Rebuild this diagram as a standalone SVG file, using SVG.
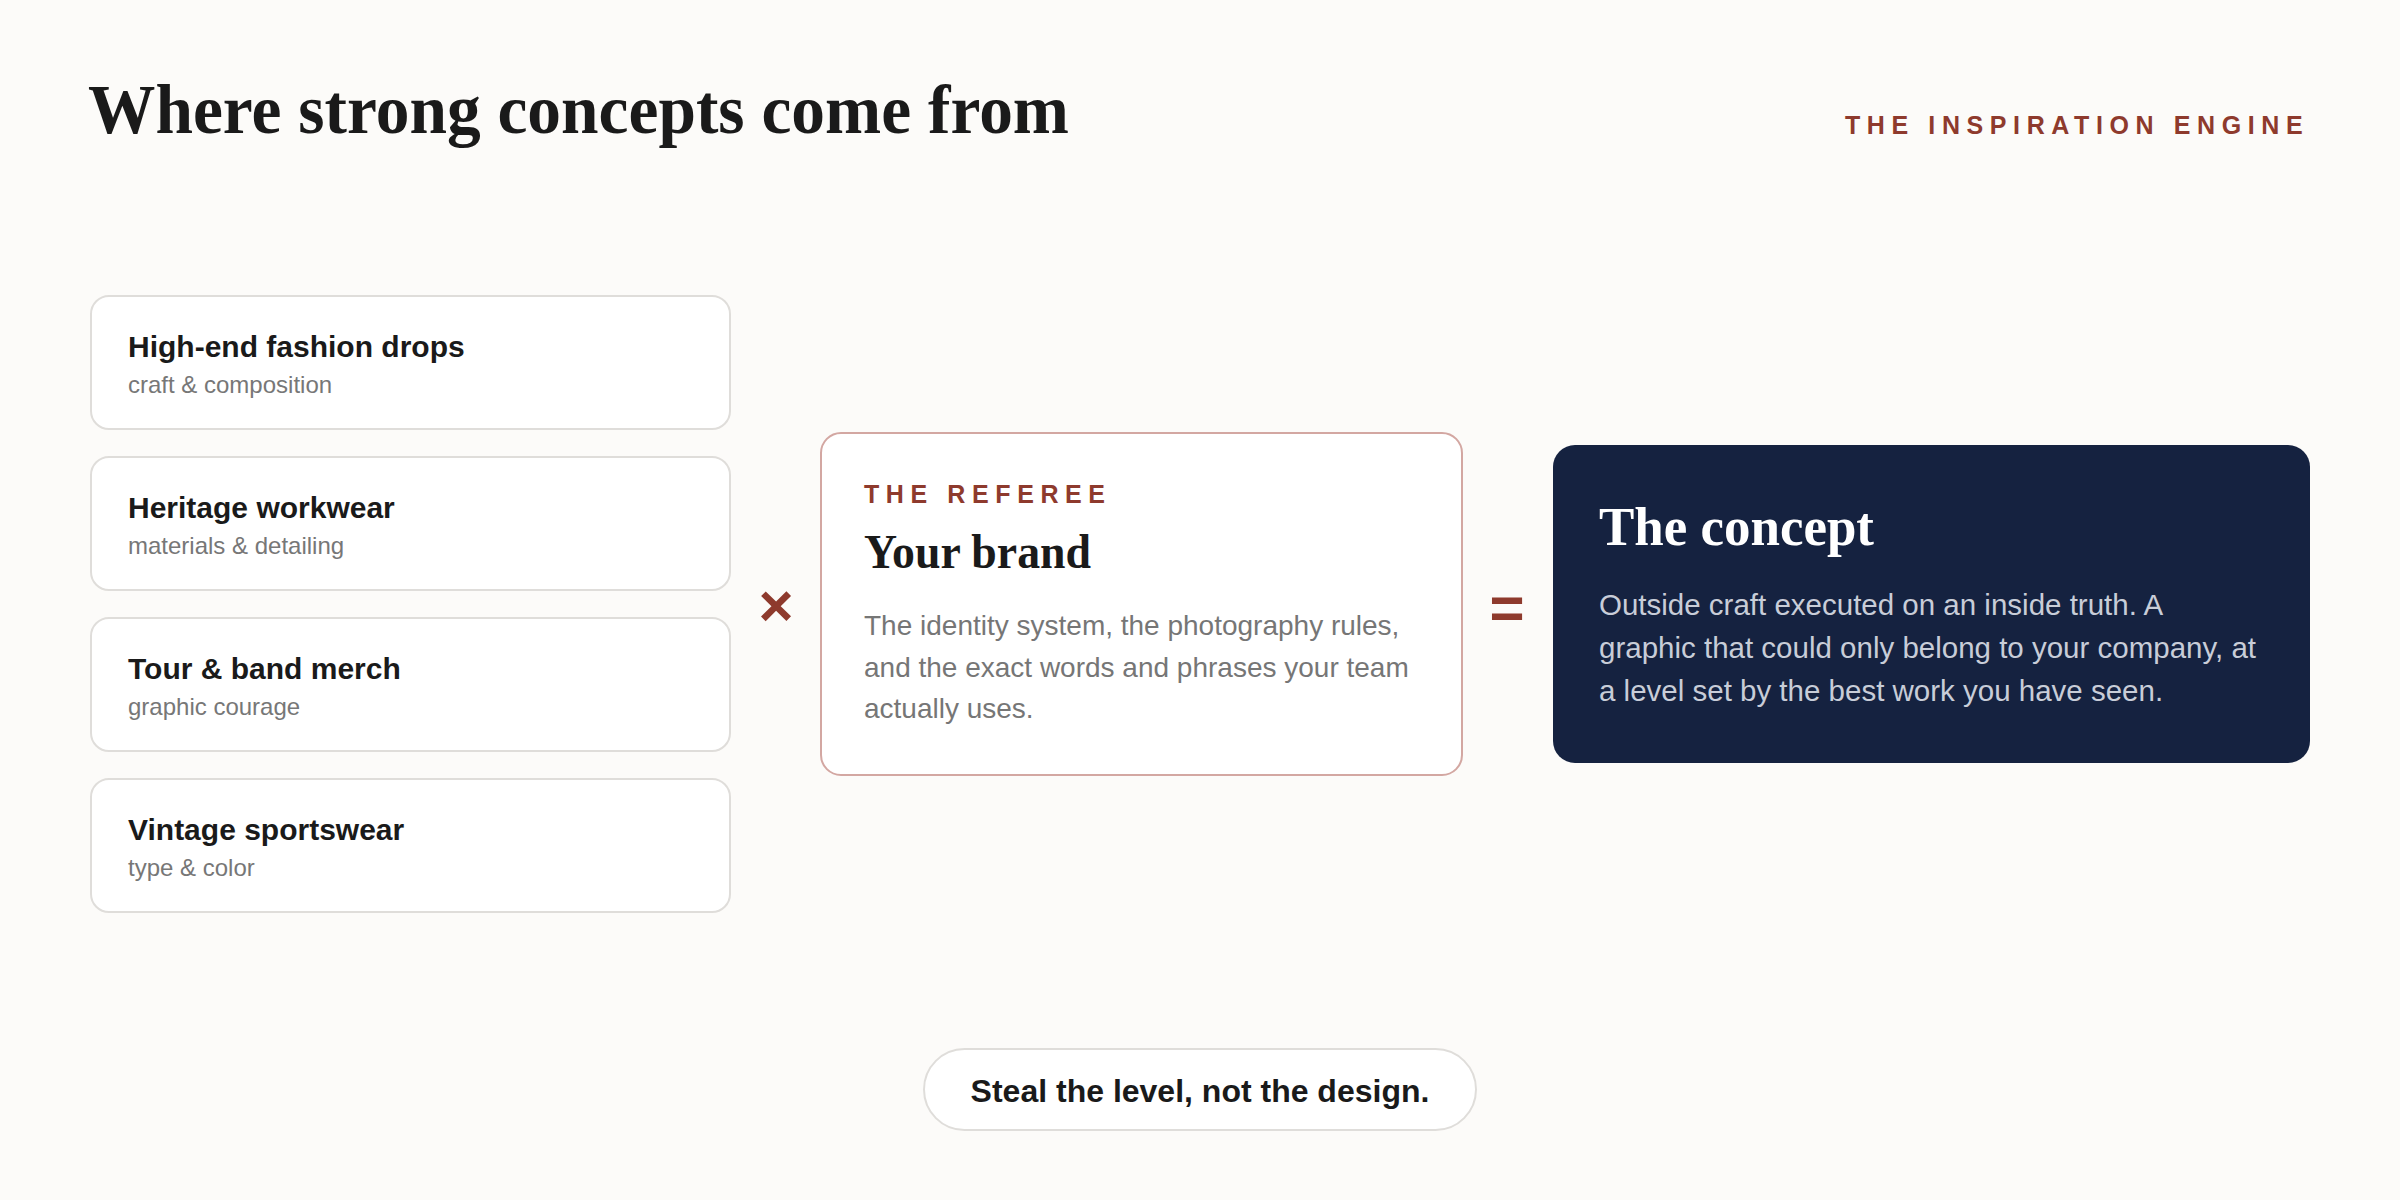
<svg xmlns="http://www.w3.org/2000/svg" width="2400" height="1200" viewBox="0 0 2400 1200">
<style>
.serif{font-family:"Liberation Serif","DejaVu Serif",serif;}
.sans{font-family:"Liberation Sans",Arial,"DejaVu Sans",sans-serif;}
.card{fill:#FFFFFF;stroke:#DFDDDA;stroke-width:2;}
.ctitle{font-size:30px;font-weight:700;fill:#1A1A1A;}
.csub{font-size:24px;fill:#777777;}
.eyebrow{font-size:25px;font-weight:700;fill:#8E3A2D;letter-spacing:6.6px;}
.body{font-size:28px;fill:#767676;}
.dbody{font-size:29.5px;fill:#C8CDD8;}
.op{font-size:60px;font-weight:700;fill:#8E3A2D;text-anchor:middle;}
</style>
<rect x="0" y="0" width="2400" height="1200" fill="#FCFBF9"/>

<g id="header">
<text class="serif" x="88" y="133" font-size="70" font-weight="700" fill="#1A1A1A" textLength="981" lengthAdjust="spacingAndGlyphs">Where strong concepts come from</text>
<text class="sans eyebrow" x="1845" y="134">THE INSPIRATION ENGINE</text>
</g>

<g id="source-fashion">
<rect class="card" x="91" y="296" width="639" height="133" rx="18"/>
<text class="sans ctitle" x="128" y="357">High-end fashion drops</text>
<text class="sans csub" x="128" y="393">craft &amp; composition</text>
</g>
<g id="source-workwear">
<rect class="card" x="91" y="457" width="639" height="133" rx="18"/>
<text class="sans ctitle" x="128" y="518">Heritage workwear</text>
<text class="sans csub" x="128" y="554">materials &amp; detailing</text>
</g>
<g id="source-merch">
<rect class="card" x="91" y="618" width="639" height="133" rx="18"/>
<text class="sans ctitle" x="128" y="679">Tour &amp; band merch</text>
<text class="sans csub" x="128" y="715">graphic courage</text>
</g>
<g id="source-sportswear">
<rect class="card" x="91" y="779" width="639" height="133" rx="18"/>
<text class="sans ctitle" x="128" y="840">Vintage sportswear</text>
<text class="sans csub" x="128" y="876">type &amp; color</text>
</g>

<g id="operators">
<text class="sans op" x="776" y="626">×</text>
<text class="sans op" x="1507" y="628" font-size="64">=</text>
</g>

<g id="referee">
<rect x="821" y="433" width="641" height="342" rx="20" fill="#FFFFFF" stroke="#D3A7A2" stroke-width="2"/>
<text class="sans eyebrow" x="864" y="503">THE REFEREE</text>
<text class="serif" x="864" y="568" font-size="48" font-weight="700" fill="#1A1A1A" textLength="227" lengthAdjust="spacingAndGlyphs">Your brand</text>
<text class="sans body" x="864" y="635">The identity system, the photography rules,</text>
<text class="sans body" x="864" y="677">and the exact words and phrases your team</text>
<text class="sans body" x="864" y="718">actually uses.</text>
</g>

<g id="concept">
<rect x="1553" y="445" width="757" height="318" rx="22" fill="#152240"/>
<text class="serif" x="1599" y="545" font-size="54" font-weight="700" fill="#FFFFFF" textLength="275" lengthAdjust="spacingAndGlyphs">The concept</text>
<text class="sans dbody" x="1599" y="615">Outside craft executed on an inside truth. A</text>
<text class="sans dbody" x="1599" y="658">graphic that could only belong to your company, at</text>
<text class="sans dbody" x="1599" y="701">a level set by the best work you have seen.</text>
</g>

<g id="tagline">
<rect x="924" y="1049" width="552" height="81" rx="40.5" fill="#FFFFFF" stroke="#DFDDDA" stroke-width="2"/>
<text class="sans" x="1200" y="1102" font-size="32" font-weight="700" fill="#1A1A1A" text-anchor="middle">Steal the level, not the design.</text>
</g>
</svg>
